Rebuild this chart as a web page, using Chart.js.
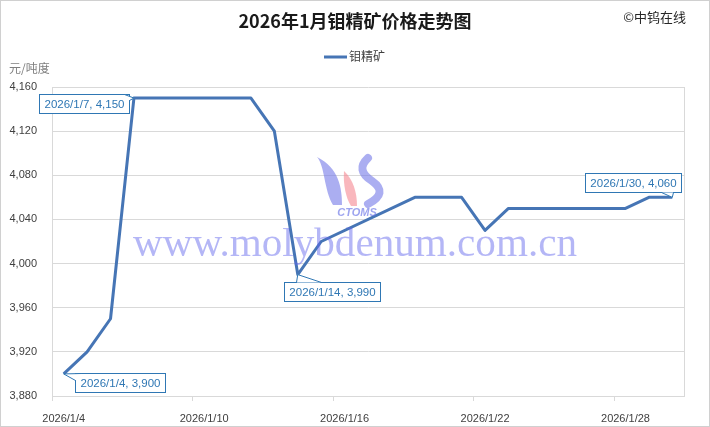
<!DOCTYPE html>
<html>
<head>
<meta charset="utf-8">
<script src="https://cdn.jsdelivr.net/npm/chart.js@4.4.1/dist/chart.umd.min.js"></script>
<style>
  html, body { margin: 0; padding: 0; background: #fff; }
  #wrap { width: 710px; height: 427px; position: relative; }
</style>
</head>
<body>
<div id="wrap"><canvas id="chart" width="710" height="427"></canvas></div>
<script>
// January 2026 molybdenum concentrate price (yuan per ton-degree)
const days = [4, 5, 6, 7, 8, 9, 10, 11, 12, 13, 14, 15, 19, 20, 21, 22, 23, 24, 25, 26, 27, 28, 29, 30];
const prices = [3900, 3920, 3950, 4150, 4150, 4150, 4150, 4150, 4150, 4120, 3990, 4020, 4060, 4060, 4060, 4030, 4050, 4050, 4050, 4050, 4050, 4050, 4060, 4060];
const xTickDays = [4, 10, 16, 22, 28];
const yTicks = [3880, 3920, 3960, 4000, 4040, 4080, 4120, 4160];
const labelledDays = [7, 4, 14, 30];

const seriesName = '钼精矿';
const titleText = '2026年1月钼精矿价格走势图';
const dateLabel = d => `2026/1/${d}`;
const fmt = v => v.toLocaleString('en-US');

const LINE = '#4675b5';
const CALLOUT = '#2f77b4';
const GRID = '#d9d9d9';
const TEXT = '#404040';

// where each callout box sits relative to its point, and which corner the tail uses
const calloutStyle = {
  7:  { dx: -50, dy: 5,   tail: b => [[b.r - 5, b.t], [b.r, b.t + 6]] },
  4:  { dx: 56,  dy: 9,   tail: b => [[b.l + 6, b.t], [b.l, b.t + 7]] },
  14: { dx: 34,  dy: 17,  tail: b => [[b.l + 12, b.t], [b.l + 37, b.t]] },
  30: { dx: -39, dy: -15, tail: b => [[b.r - 20, b.b], [b.r - 8, b.b]] }
};

function drawLogo(ctx) {
  ctx.fillStyle = 'rgba(115,120,232,0.6)';
  ctx.beginPath();
  ctx.moveTo(317, 157);
  ctx.bezierCurveTo(325, 166, 324, 190, 333, 205);
  ctx.lineTo(342, 205);
  ctx.bezierCurveTo(342, 188, 339, 168, 317, 157);
  ctx.fill();

  ctx.fillStyle = 'rgba(245,135,145,0.6)';
  ctx.beginPath();
  ctx.moveTo(344, 171);
  ctx.bezierCurveTo(343, 185, 346, 198, 351, 206);
  ctx.lineTo(357, 206);
  ctx.bezierCurveTo(357, 192, 353, 179, 344, 171);
  ctx.fill();

  ctx.strokeStyle = 'rgba(115,120,232,0.6)';
  ctx.lineWidth = 8;
  ctx.lineCap = 'round';
  ctx.beginPath();
  ctx.moveTo(368, 158);
  ctx.quadraticCurveTo(355, 170, 372, 181);
  ctx.quadraticCurveTo(389, 193, 368, 204);
  ctx.stroke();

  ctx.fillStyle = 'rgba(105,115,230,0.65)';
  ctx.font = 'italic bold 11px "Liberation Sans", sans-serif';
  ctx.textAlign = 'center';
  ctx.textBaseline = 'middle';
  ctx.fillText('CTOMS', 357, 213);
}

const decor = {
  id: 'decor',
  beforeDraw(chart) {
    const ctx = chart.ctx;
    ctx.save();
    ctx.fillStyle = '#fff';
    ctx.fillRect(0, 0, chart.width, chart.height);
    ctx.strokeStyle = '#d0d0d0';
    ctx.lineWidth = 1;
    ctx.strokeRect(0.5, 0.5, chart.width - 1, chart.height - 1);

    // title
    ctx.fillStyle = '#1a1a1a';
    ctx.textAlign = 'center';
    ctx.textBaseline = 'middle';
    ctx.font = 'bold 18px "Noto Sans CJK SC", sans-serif';
    ctx.fillText(titleText, 355, 21);

    ctx.font = '13px "Noto Sans CJK SC", sans-serif';
    ctx.textAlign = 'right';
    ctx.fillStyle = '#262626';
    ctx.fillText('©中钨在线', 686, 17);

    // legend
    ctx.strokeStyle = LINE;
    ctx.lineWidth = 3;
    ctx.beginPath();
    ctx.moveTo(324, 57);
    ctx.lineTo(347, 57);
    ctx.stroke();
    ctx.textAlign = 'left';
    ctx.fillStyle = TEXT;
    ctx.font = '12px "Noto Sans CJK SC", sans-serif';
    ctx.fillText(seriesName, 349, 56);

    // unit
    ctx.fillStyle = '#7f7f7f';
    ctx.font = '12px "Noto Sans CJK SC", sans-serif';
    ctx.fillText('元/吨度', 9, 68);
    ctx.restore();
  },
  afterDatasetsDraw(chart) {
    const ctx = chart.ctx;
    const a = chart.chartArea;
    const xs = chart.scales.x;
    ctx.save();

    // plot border and x tick marks between dates
    ctx.strokeStyle = GRID;
    ctx.lineWidth = 1;
    ctx.beginPath();
    ctx.moveTo(Math.round(a.right) + 0.5, a.top);
    ctx.lineTo(Math.round(a.right) + 0.5, a.bottom);
    xTickDays.forEach(d => {
      const x = Math.round(xs.getPixelForValue(d - 0.5)) + 0.5;
      ctx.moveTo(x, a.bottom);
      ctx.lineTo(x, a.bottom + 5);
    });
    ctx.stroke();

    drawLogo(ctx);

    // text watermark
    ctx.font = '40px "Liberation Serif", serif';
    ctx.textAlign = 'center';
    ctx.textBaseline = 'middle';
    const w = ctx.measureText('www.molybdenum.com.cn').width;
    ctx.save();
    ctx.translate(355, 245);
    ctx.scale(444 / w, 1);
    ctx.fillStyle = 'rgba(95,100,235,0.47)';
    ctx.fillText('www.molybdenum.com.cn', 0, 0);
    ctx.restore();

    // callouts
    const meta = chart.getDatasetMeta(0);
    ctx.font = '11.5px "Liberation Sans", sans-serif';
    labelledDays.forEach(d => {
      const i = days.indexOf(d);
      const p = meta.data[i];
      const st = calloutStyle[d];
      const text = `${dateLabel(d)}, ${fmt(prices[i])}`;
      const bw = ctx.measureText(text).width + 10;
      const bh = 19;
      const cx = p.x + st.dx, cy = p.y + st.dy;
      const b = { l: Math.round(cx - bw / 2) + 0.5, t: Math.round(cy - bh / 2) + 0.5 };
      b.r = b.l + Math.round(bw);
      b.b = b.t + bh;
      ctx.fillStyle = '#fff';
      ctx.strokeStyle = CALLOUT;
      ctx.lineWidth = 1;
      ctx.fillRect(b.l, b.t, b.r - b.l, bh);
      ctx.strokeRect(b.l, b.t, b.r - b.l, bh);
      const [t1, t2] = st.tail(b);
      ctx.beginPath();
      ctx.moveTo(t1[0], t1[1]);
      ctx.lineTo(p.x, p.y);
      ctx.lineTo(t2[0], t2[1]);
      ctx.closePath();
      ctx.fill();
      ctx.beginPath();
      ctx.moveTo(t1[0], t1[1]);
      ctx.lineTo(p.x, p.y);
      ctx.lineTo(t2[0], t2[1]);
      ctx.stroke();
      ctx.fillStyle = CALLOUT;
      ctx.textAlign = 'center';
      ctx.textBaseline = 'middle';
      ctx.fillText(text, (b.l + b.r) / 2, (b.t + b.b) / 2 + 0.5);
    });
    ctx.restore();
  }
};

new Chart(document.getElementById('chart'), {
  type: 'line',
  data: {
    datasets: [{
      label: seriesName,
      data: days.map((d, i) => ({ x: d, y: prices[i] })),
      borderColor: LINE,
      backgroundColor: LINE,
      borderWidth: 3,
      pointRadius: 0,
      tension: 0,
      borderJoinStyle: 'round'
    }]
  },
  options: {
    responsive: false,
    animation: false,
    events: [],
    layout: { padding: { top: 87, right: 26, bottom: 0, left: 0 } },
    plugins: { legend: { display: false }, title: { display: false }, tooltip: { enabled: false } },
    scales: {
      x: {
        type: 'linear',
        min: 3.5,
        max: 30.5,
        afterBuildTicks: s => { s.ticks = xTickDays.map(v => ({ value: v })); },
        afterFit: s => { s.height = 31; },
        ticks: {
          callback: v => dateLabel(v),
          autoSkip: false,
          maxRotation: 0,
          padding: 8,
          color: TEXT,
          font: { family: '"Liberation Sans", sans-serif', size: 11 }
        },
        grid: { display: false },
        border: { display: true, color: GRID }
      },
      y: {
        min: 3880,
        max: 4160,
        afterBuildTicks: s => { s.ticks = yTicks.map(v => ({ value: v })); },
        afterFit: s => { s.width = 52; },
        ticks: {
          callback: v => fmt(v),
          padding: 15,
          color: TEXT,
          font: { family: '"Liberation Sans", sans-serif', size: 11 }
        },
        grid: { color: GRID, drawTicks: false },
        border: { display: true, color: GRID }
      }
    }
  },
  plugins: [decor]
});
</script>
</body>
</html>
